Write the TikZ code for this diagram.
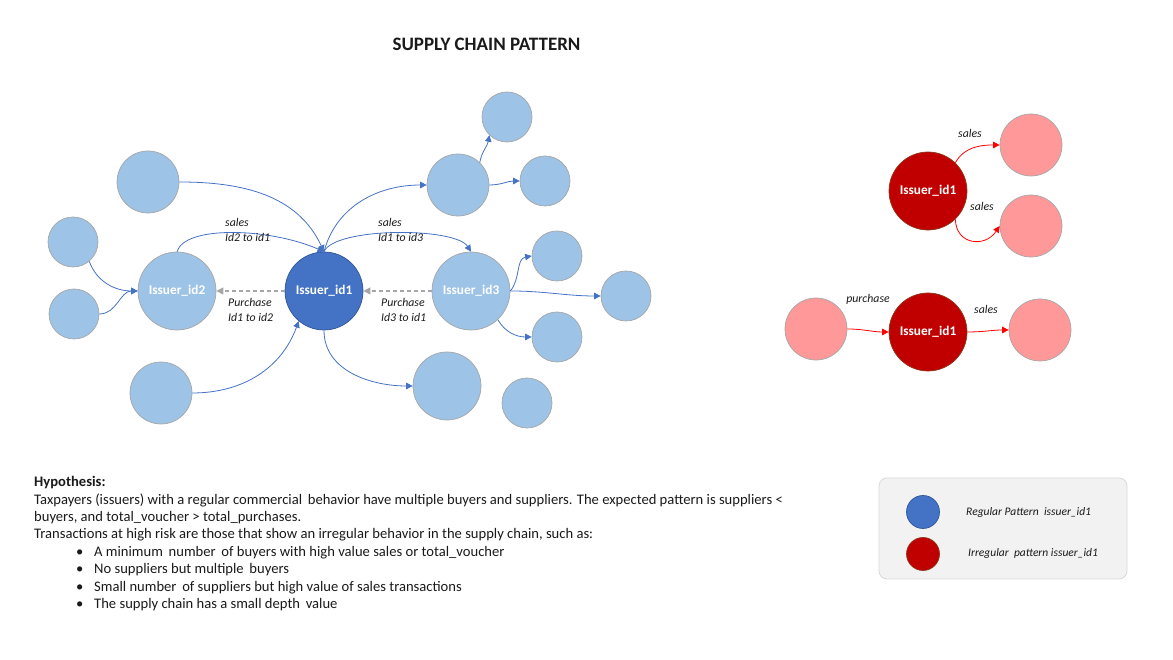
\documentclass[tikz,border=0pt]{standalone}
\usepackage{fontspec}
\setmainfont{Carlito}
\usetikzlibrary{arrows.meta}
\definecolor{lblue}{HTML}{9DC3E6}
\definecolor{dblue}{HTML}{4472C4}
\definecolor{dbluebd}{HTML}{2F5597}
\definecolor{edgeblue}{HTML}{4472C4}
\definecolor{dred}{HTML}{C00000}
\definecolor{dredbd}{HTML}{8B3A1A}
\definecolor{mypink}{HTML}{FF9999}
\definecolor{cbord}{HTML}{A6A6A6}
\definecolor{legfill}{HTML}{F2F2F2}
\definecolor{legbd}{HTML}{D9D9D9}
\definecolor{txt}{HTML}{1A1A1A}
\definecolor{dashgray}{HTML}{A6A6A6}
\begin{document}
\begin{tikzpicture}[x=1pt,y=1pt,
  circ/.style={circle, draw=cbord, line width=0.7pt, inner sep=0pt, text=white,
    font=\fontsize{13.3}{15}\selectfont\bfseries},
  lbnode/.style={circ, fill=lblue},
  dknode/.style={circ, fill=dblue, draw=dbluebd},
  rednode/.style={circ, fill=dred, draw=dredbd},
  pinknode/.style={circ, fill=mypink},
  big/.style={minimum size=78pt},
  mid/.style={minimum size=62pt},
  sml/.style={minimum size=50pt},
  bm/.style={minimum size=68pt},
  lab/.style={text=txt, align=left, inner sep=0pt,
    font=\fontsize{11.8}{15}\selectfont\itshape},
  body/.style={text=txt, anchor=base west, inner sep=0pt,
    font=\fontsize{14.6}{17.5}\selectfont},
  bedge/.style={draw=edgeblue, line width=0.8pt, -{Triangle[length=6.5pt,width=6.5pt]}},
  redge/.style={draw=red, line width=0.8pt, -{Triangle[length=6.5pt,width=6.5pt]}},
  dedge/.style={draw=dashgray, line width=1.2pt, dash pattern=on 4pt off 3pt,
    -{Triangle[length=7pt,width=7pt]}},
  legtxt/.style={text=txt, anchor=west, inner sep=0pt,
    font=\fontsize{11.5}{14}\selectfont\itshape}
]
\useasboundingbox (0,0) rectangle (1173,660);

% title
\node[text=txt, font=\fontsize{19}{21}\selectfont\bfseries] (title) at (486.5,616) {SUPPLY CHAIN PATTERN};

% left graph nodes
\node[dknode, big] (id1) at (324,369) {Issuer\_id1};
\node[lbnode, big] (id2) at (177,369) {Issuer\_id2};
\node[lbnode, big] (id3) at (471,369) {Issuer\_id3};
\node[lbnode, mid] (tl) at (148,478) {};
\node[lbnode, sml] (ls1) at (73,418) {};
\node[lbnode, sml] (ls2) at (74,346) {};
\node[lbnode, mid] (bl) at (161,267) {};
\node[lbnode, mid] (tm) at (458,475) {};
\node[lbnode, sml] (trt) at (507,543) {};
\node[lbnode, sml] (tr) at (545,479) {};
\node[lbnode, sml] (r3a) at (557,404) {};
\node[lbnode, sml] (r3b) at (626,364) {};
\node[lbnode, sml] (r3c) at (557,323) {};
\node[lbnode, bm] (bmid) at (447,274) {};
\node[lbnode, sml] (br) at (527,257) {};

% left graph edges
\draw[bedge] (tl.east) to[out=0,in=115] (id1.north);
\draw[bedge] (id2.north) .. controls (185,435) and (270,432) .. (id1.north);
\draw[bedge] (id1.north) to[out=75,in=180] (tm.west);
\draw[bedge] (id1.north) .. controls (335,433) and (455,433) .. (id3.north);
\draw[bedge] (ls1.-50) to[out=-70,in=180] (id2.west);
\draw[bedge] (ls2.east) to[out=0,in=180] (id2.west);
\draw[bedge] (bl.east) to[out=0,in=250] (id1.230);
\draw[bedge] (id1.south) to[out=-90,in=180] (bmid.west);
\draw[dedge] (id3.west) -- (id1.east);
\draw[dedge] (id1.west) -- (id2.east);
\draw[bedge] (tm.46) to[out=80,in=-100] (trt.226);
\draw[bedge] (tm.east) to[out=0,in=180] (tr.west);
\draw[bedge] (id3.east) to[out=50,in=190] (r3a.west);
\draw[bedge] (id3.east) to[out=0,in=180] (r3b.west);
\draw[bedge] (id3.-47) to[out=-60,in=180] (r3c.west);

% left labels
\node[lab, anchor=west] (l21) at (225,430) {sales\\Id2 to id1};
\node[lab, anchor=west] (l13) at (378,430) {sales\\Id1 to id3};
\node[lab, anchor=west] (p12) at (228,350) {Purchase\\Id1 to id2};
\node[lab, anchor=west] (p31) at (381,350) {Purchase\\Id3 to id1};

% right graph
\node[rednode, big] (rA) at (928,469) {Issuer\_id1};
\node[pinknode, mid] (pA1) at (1031,515) {};
\node[pinknode, mid] (pA2) at (1031,434) {};
\node[pinknode, mid] (pB0) at (816,331) {};
\node[rednode, big] (rB) at (928,328) {Issuer\_id1};
\node[pinknode, mid] (pB2) at (1040,330) {};

\draw[redge] (rA.46) to[out=60,in=180] (pA1.west);
\draw[redge] (rA.-46) .. controls (956,415) and (985,412) .. (pA2.west);
\draw[redge] (pB0.east) to[out=0,in=180] (rB.west);
\draw[redge] (rB.east) to[out=0,in=180] (pB2.west);

\node[lab] (sA1) at (970,527) {sales};
\node[lab] (sA2) at (982,454) {sales};
\node[lab] (pB) at (868,361) {purchase};
\node[lab] (sB) at (986,351) {sales};

% legend
\draw[draw=legbd, fill=legfill, rounded corners=8pt, line width=0.8pt] (879,182) rectangle (1127,81);
\node[circ, fill=dblue, draw=dbluebd, minimum size=33pt] (legb) at (923,148) {};
\node[circ, fill=dred, draw=dredbd, minimum size=33pt] (legr) at (923,106) {};
\node[legtxt] (legbt) at (966,148) {Regular Pattern\ \ issuer\_id1};
\node[legtxt] (legrt) at (968,106) {Irregular\ \ pattern issuer\_id1};

% hypothesis text
\node[body, font=\fontsize{14.6}{17.5}\selectfont\bfseries] (h0) at (34,173) {Hypothesis:};
\node[body] (h1) at (34,155.7) {Taxpayers (issuers) with a regular commercial\ \,behavior have multiple buyers and suppliers. The expected pattern is suppliers <};
\node[body] (h2) at (34,138.3) {buyers, and total\_voucher > total\_purchases.};
\node[body] (h3) at (34,121) {Transactions at high risk are those that show an irregular behavior in the supply chain, such as:};
\node[body] (b1) at (76,103.3) {•};
\node[body] (b2) at (76,86) {•};
\node[body] (b3) at (76,68.3) {•};
\node[body] (b4) at (76,51) {•};
\node[body] (t1) at (94,103.3) {A minimum\ \,number\ \,of buyers with high value sales or total\_voucher};
\node[body] (t2) at (94,86) {No suppliers but multiple\ \,buyers};
\node[body] (t3) at (94,68.3) {Small number\ \,of suppliers but high value of sales transactions};
\node[body] (t4) at (94,51) {The supply chain has a small depth\ \,value};
\end{tikzpicture}
\end{document}
